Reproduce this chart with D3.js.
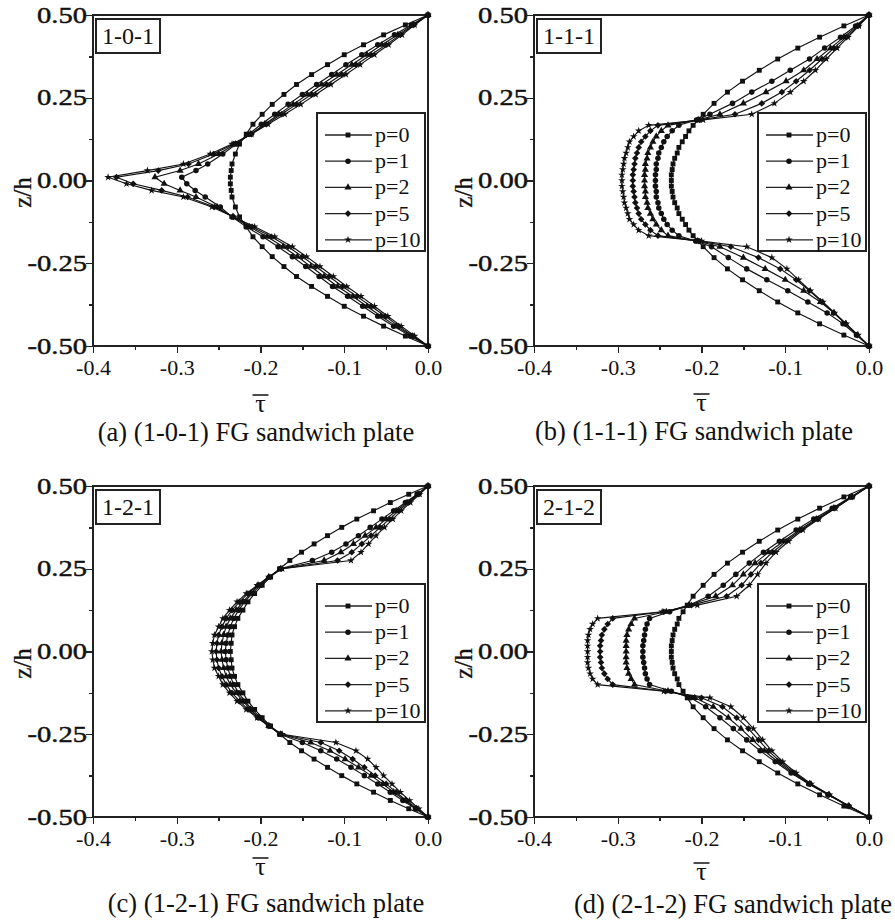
<!DOCTYPE html>
<meta charset="utf-8">
<style>

body {
  margin: 0;
  background: #fff;
}

svg {
  display: block;
  font-family: "Liberation Serif", "Times New Roman", serif;
}

svg text {
  font-family: "Liberation Serif", "Times New Roman", serif;
  fill: #111;
}

.axis path,
.axis line,
.frame,
.box {
  fill: none;
  stroke: #222;
  stroke-width: 1.3px;
  shape-rendering: crispEdges;
}

.curve {
  fill: none;
  stroke: #111;
  stroke-width: 1.15px;
}

.mark {
  fill: #111;
  stroke: none;
}

</style>
<body>
<svg width="895" height="924"></svg>

<script src="https://d3js.org/d3.v7.min.js"></script>
<script>

// ---- data (z/h against tau-bar) ----

var pLabels = ["p=0", "p=1", "p=2", "p=5", "p=10"];
var tags = ["1-0-1", "1-1-1", "1-2-1", "2-1-2"];
var captions = ["(a) (1-0-1) FG sandwich plate", "(b) (1-1-1) FG sandwich plate",
                "(c) (1-2-1) FG sandwich plate", "(d) (2-1-2) FG sandwich plate"];

var xTicks = [-0.4, -0.3, -0.2, -0.1, 0.0],
    xTickLabels = ["-0.4", "-0.3", "-0.2", "-0.1", "0.0"],
    xMinor = [-0.35, -0.25, -0.15, -0.05];
var yTicks = [0.5, 0.25, 0, -0.25, -0.5],
    yTickLabels = ["0.50", "0.25", "0.00", "-0.25", "-0.50"],
    yMinor = [0.375, 0.125, -0.125, -0.375];

// (a) 1-0-1
var zA = [0.5, 0.47, 0.44, 0.41, 0.38, 0.35, 0.32, 0.29, 0.26, 0.23, 0.2, 0.17, 0.14, 0.11, 0.08, 0.05, 0.03, 0.01,
          -0.01, -0.03, -0.05, -0.08, -0.11, -0.14, -0.17, -0.2, -0.23, -0.26, -0.29, -0.32, -0.35, -0.38, -0.41, -0.44, -0.47, -0.5];
var tauA0 = [0, -0.027, -0.053, -0.077, -0.100, -0.120, -0.139, -0.157, -0.172, -0.186, -0.198, -0.209, -0.217, -0.225, -0.230, -0.234, -0.235, -0.236,
             -0.236, -0.235, -0.234, -0.230, -0.225, -0.217, -0.209, -0.198, -0.186, -0.172, -0.157, -0.139, -0.120, -0.100, -0.077, -0.053, -0.027, 0];
var tauA1 = [0, -0.020, -0.040, -0.060, -0.079, -0.098, -0.115, -0.133, -0.150, -0.167, -0.183, -0.199, -0.214, -0.229, -0.245, -0.263, -0.277, -0.294,
             -0.288, -0.278, -0.266, -0.248, -0.234, -0.217, -0.197, -0.179, -0.162, -0.146, -0.130, -0.114, -0.096, -0.078, -0.060, -0.041, -0.021, 0];
var tauA2 = [0, -0.018, -0.036, -0.055, -0.073, -0.091, -0.109, -0.127, -0.144, -0.161, -0.178, -0.195, -0.212, -0.230, -0.250, -0.274, -0.296, -0.326,
             -0.315, -0.296, -0.277, -0.252, -0.233, -0.213, -0.192, -0.173, -0.156, -0.140, -0.124, -0.108, -0.090, -0.073, -0.056, -0.038, -0.019, 0];
var tauA5 = [0, -0.017, -0.033, -0.050, -0.068, -0.086, -0.103, -0.121, -0.139, -0.157, -0.175, -0.193, -0.211, -0.232, -0.256, -0.286, -0.322, -0.372,
             -0.352, -0.318, -0.287, -0.255, -0.232, -0.210, -0.187, -0.167, -0.150, -0.134, -0.118, -0.102, -0.085, -0.068, -0.051, -0.035, -0.018, 0];
var tauA10 = [0, -0.016, -0.031, -0.047, -0.064, -0.081, -0.098, -0.116, -0.134, -0.152, -0.171, -0.191, -0.211, -0.234, -0.260, -0.292, -0.335, -0.382,
              -0.360, -0.330, -0.292, -0.258, -0.232, -0.207, -0.183, -0.162, -0.145, -0.129, -0.113, -0.097, -0.080, -0.064, -0.048, -0.032, -0.016, 0];

// (b) 1-1-1
var zB = [0.5, 0.467, 0.433, 0.4, 0.367, 0.333, 0.3, 0.267, 0.233, 0.2, 0.183, 0.1667,
          0.15, 0.133, 0.117, 0.1, 0.083, 0.067, 0.05, 0.033, 0.017, 0, -0.017, -0.033, -0.05, -0.067, -0.083, -0.1, -0.117, -0.133, -0.15,
          -0.1667, -0.183, -0.2, -0.233, -0.267, -0.3, -0.333, -0.367, -0.4, -0.433, -0.467, -0.5];
var tauB0 = [0, -0.030, -0.059, -0.085, -0.109, -0.131, -0.151, -0.169, -0.185, -0.198, -0.204, -0.210,
             -0.215, -0.219, -0.223, -0.227, -0.229, -0.232, -0.234, -0.235, -0.236, -0.236, -0.236, -0.235, -0.234, -0.232, -0.229, -0.227, -0.223, -0.219, -0.215,
             -0.210, -0.204, -0.198, -0.185, -0.169, -0.151, -0.131, -0.109, -0.085, -0.059, -0.030, 0];
var tauB1 = [0, -0.016, -0.034, -0.053, -0.071, -0.094, -0.116, -0.140, -0.163, -0.190, -0.206, -0.227,
             -0.235, -0.241, -0.245, -0.248, -0.251, -0.252, -0.254, -0.254, -0.255, -0.255, -0.255, -0.254, -0.254, -0.252, -0.251, -0.248, -0.245, -0.241, -0.235,
             -0.227, -0.207, -0.188, -0.168, -0.146, -0.122, -0.097, -0.073, -0.050, -0.031, -0.015, 0];
var tauB2 = [0, -0.014, -0.030, -0.046, -0.062, -0.078, -0.099, -0.123, -0.150, -0.178, -0.204, -0.240,
             -0.248, -0.254, -0.258, -0.261, -0.264, -0.265, -0.267, -0.267, -0.268, -0.268, -0.268, -0.267, -0.267, -0.265, -0.264, -0.261, -0.258, -0.254, -0.248,
             -0.240, -0.205, -0.178, -0.150, -0.124, -0.100, -0.078, -0.058, -0.042, -0.028, -0.014, 0];
var tauB5 = [0, -0.013, -0.027, -0.042, -0.056, -0.071, -0.087, -0.104, -0.128, -0.160, -0.202, -0.252,
             -0.261, -0.267, -0.272, -0.275, -0.277, -0.279, -0.280, -0.281, -0.282, -0.282, -0.282, -0.281, -0.280, -0.279, -0.277, -0.275, -0.272, -0.267, -0.261,
             -0.252, -0.203, -0.165, -0.132, -0.106, -0.087, -0.071, -0.056, -0.042, -0.028, -0.014, 0];
var tauB10 = [0, -0.012, -0.025, -0.038, -0.051, -0.064, -0.078, -0.094, -0.113, -0.140, -0.198, -0.263,
              -0.275, -0.281, -0.286, -0.288, -0.290, -0.292, -0.293, -0.294, -0.295, -0.295, -0.295, -0.294, -0.293, -0.292, -0.290, -0.288, -0.286, -0.281, -0.275,
              -0.263, -0.200, -0.146, -0.116, -0.098, -0.084, -0.070, -0.055, -0.041, -0.027, -0.013, 0];

// (c) 1-2-1
var zC = [0.5, 0.475, 0.45, 0.425, 0.4, 0.375, 0.35, 0.325, 0.3, 0.275, 0.25,
          0.225, 0.2, 0.175, 0.15, 0.125, 0.1, 0.075, 0.05, 0.025, 0, -0.025, -0.05, -0.075, -0.1, -0.125, -0.15, -0.175, -0.2, -0.225,
          -0.25, -0.275, -0.3, -0.325, -0.35, -0.375, -0.4, -0.425, -0.45, -0.475, -0.5];
var tauC0 = [0, -0.023, -0.045, -0.065, -0.085, -0.103, -0.120, -0.136, -0.151, -0.165, -0.177,
             -0.188, -0.198, -0.207, -0.215, -0.221, -0.227, -0.231, -0.234, -0.235, -0.236, -0.235, -0.234, -0.231, -0.227, -0.221, -0.215, -0.207, -0.198, -0.188,
             -0.177, -0.165, -0.151, -0.136, -0.120, -0.103, -0.085, -0.065, -0.045, -0.023, 0];
var tauC1 = [0, -0.013, -0.027, -0.041, -0.055, -0.069, -0.083, -0.098, -0.115, -0.138, -0.177,
             -0.189, -0.200, -0.210, -0.219, -0.226, -0.232, -0.236, -0.239, -0.241, -0.242, -0.241, -0.239, -0.236, -0.232, -0.226, -0.219, -0.210, -0.200, -0.189,
             -0.177, -0.150, -0.128, -0.109, -0.092, -0.076, -0.060, -0.045, -0.030, -0.015, 0];
var tauC2 = [0, -0.012, -0.025, -0.038, -0.050, -0.062, -0.075, -0.089, -0.104, -0.124, -0.176,
             -0.190, -0.202, -0.212, -0.221, -0.229, -0.236, -0.241, -0.244, -0.246, -0.247, -0.246, -0.244, -0.241, -0.236, -0.229, -0.221, -0.212, -0.202, -0.190,
             -0.176, -0.140, -0.117, -0.099, -0.083, -0.068, -0.054, -0.041, -0.027, -0.014, 0];
var tauC5 = [0, -0.011, -0.023, -0.035, -0.046, -0.057, -0.068, -0.079, -0.091, -0.108, -0.175,
             -0.190, -0.203, -0.215, -0.225, -0.234, -0.241, -0.246, -0.250, -0.252, -0.253, -0.252, -0.250, -0.246, -0.241, -0.234, -0.225, -0.215, -0.203, -0.190,
             -0.175, -0.128, -0.106, -0.090, -0.076, -0.063, -0.050, -0.038, -0.026, -0.013, 0];
var tauC10 = [0, -0.010, -0.021, -0.032, -0.042, -0.052, -0.062, -0.071, -0.080, -0.092, -0.174,
              -0.190, -0.204, -0.217, -0.228, -0.237, -0.245, -0.250, -0.255, -0.257, -0.258, -0.257, -0.255, -0.250, -0.245, -0.237, -0.228, -0.217, -0.204, -0.190,
              -0.174, -0.110, -0.086, -0.072, -0.062, -0.053, -0.043, -0.033, -0.022, -0.011, 0];

// (d) 2-1-2
var zD = [0.5, 0.467, 0.433, 0.4, 0.367, 0.333, 0.3, 0.267, 0.233, 0.2, 0.167, 0.14, 0.12, 0.1,
          0.083, 0.067, 0.05, 0.033, 0.017, 0, -0.017, -0.033, -0.05, -0.067, -0.083,
          -0.1, -0.12, -0.14, -0.167, -0.2, -0.233, -0.267, -0.3, -0.333, -0.367, -0.4, -0.433, -0.467, -0.5];
var tauD0 = [0, -0.030, -0.059, -0.085, -0.109, -0.131, -0.151, -0.169, -0.185, -0.198, -0.210, -0.217, -0.222, -0.227,
             -0.229, -0.232, -0.234, -0.235, -0.236, -0.236, -0.236, -0.235, -0.234, -0.232, -0.229,
             -0.227, -0.222, -0.217, -0.210, -0.198, -0.185, -0.169, -0.151, -0.131, -0.109, -0.085, -0.059, -0.030, 0];
var tauD1 = [0, -0.022, -0.044, -0.066, -0.087, -0.107, -0.126, -0.143, -0.159, -0.174, -0.192, -0.215, -0.238, -0.262,
             -0.265, -0.267, -0.268, -0.269, -0.270, -0.270, -0.270, -0.269, -0.268, -0.267, -0.265,
             -0.262, -0.236, -0.213, -0.195, -0.178, -0.162, -0.146, -0.130, -0.112, -0.093, -0.072, -0.049, -0.025, 0];
var tauD2 = [0, -0.021, -0.042, -0.063, -0.083, -0.102, -0.120, -0.136, -0.150, -0.163, -0.183, -0.215, -0.242, -0.280,
             -0.284, -0.287, -0.289, -0.290, -0.290, -0.290, -0.290, -0.290, -0.289, -0.287, -0.284,
             -0.280, -0.240, -0.208, -0.186, -0.168, -0.153, -0.139, -0.125, -0.109, -0.091, -0.071, -0.048, -0.024, 0];
var tauD5 = [0, -0.020, -0.041, -0.061, -0.081, -0.099, -0.115, -0.129, -0.141, -0.152, -0.170, -0.212, -0.245, -0.306,
             -0.312, -0.316, -0.319, -0.320, -0.321, -0.321, -0.321, -0.320, -0.319, -0.316, -0.312,
             -0.306, -0.243, -0.200, -0.175, -0.158, -0.144, -0.132, -0.120, -0.106, -0.089, -0.070, -0.048, -0.024, 0];
var tauD10 = [0, -0.020, -0.040, -0.060, -0.079, -0.096, -0.111, -0.123, -0.133, -0.143, -0.158, -0.205, -0.247, -0.324,
              -0.330, -0.333, -0.335, -0.336, -0.336, -0.336, -0.336, -0.336, -0.335, -0.333, -0.330,
              -0.324, -0.245, -0.190, -0.165, -0.150, -0.138, -0.127, -0.116, -0.103, -0.087, -0.069, -0.047, -0.024, 0];

// ---- layout ----

var serif = "'Liberation Serif', 'Times New Roman', serif";

var svg = d3.select("svg"),
    width = 335,
    height = 331,
    yLabelStretch = 1.27;   // the y tick labels of the source are drawn wide

var panels = [
  {z: zA, tau: [tauA0, tauA1, tauA2, tauA5, tauA10], left: 93, top: 15, capX: 256, capY: 441, tauY: 66},
  {z: zB, tau: [tauB0, tauB1, tauB2, tauB5, tauB10], left: 534, top: 15, capX: 694, capY: 440, tauY: 65},
  {z: zC, tau: [tauC0, tauC1, tauC2, tauC5, tauC10], left: 93, top: 486, capX: 266, capY: 912, tauY: 58},
  {z: zD, tau: [tauD0, tauD1, tauD2, tauD5, tauD10], left: 534, top: 486, capX: 733, capY: 913, tauY: 63}
];

var x = d3.scaleLinear().domain([-0.4, 0]).range([0, width]);
var y = d3.scaleLinear().domain([-0.5, 0.5]).range([height, 0]);

// marker per series: square, circle, triangle, diamond, star
var symbols = [
  d3.symbol().type(d3.symbolSquare).size(24),
  d3.symbol().type(d3.symbolCircle).size(24),
  d3.symbol().type(d3.symbolTriangle).size(22),
  d3.symbol().type(d3.symbolSquare).size(22),
  d3.symbol().type(d3.symbolStar).size(18)
];
var rotations = [0, 0, 0, 45, 0];

var line = d3.line()
    .x(function(d) { return x(d.t); })
    .y(function(d) { return y(d.z); });

panels.forEach(function(pn, k) {
  var g = svg.append("g")
      .attr("transform", "translate(" + pn.left + "," + pn.top + ")");

  // axes
  var xAxis = g.append("g")
      .attr("class", "axis")
      .attr("transform", "translate(0," + height + ")")
      .call(d3.axisBottom(x).tickValues(xTicks)
        .tickFormat(function(d, i) { return xTickLabels[i]; })
        .tickSize(7).tickSizeOuter(0));
  xAxis.selectAll("text").attr("y", 29).attr("dy", null).style("font-size", "22px");

  g.append("g")
      .attr("class", "axis")
      .attr("transform", "translate(0," + height + ")")
      .call(d3.axisBottom(x).tickValues(xMinor).tickFormat("").tickSize(4).tickSizeOuter(0));

  var yAxis = g.append("g")
      .attr("class", "axis")
      .call(d3.axisLeft(y).tickValues(yTicks)
        .tickFormat(function(d, i) { return yTickLabels[i]; })
        .tickSize(7).tickSizeOuter(0));
  yAxis.selectAll("text")
      .attr("x", -6 / yLabelStretch)
      .attr("transform", "scale(" + yLabelStretch + ",1)")
      .style("font-size", "22.5px")
      .style("stroke", "#111")
      .style("stroke-width", "0.45px");

  g.append("g")
      .attr("class", "axis")
      .call(d3.axisLeft(y).tickValues(yMinor).tickFormat("").tickSize(4).tickSizeOuter(0));

  g.selectAll(".axis").attr("font-family", null).attr("font-size", null);

  g.append("rect")
      .attr("class", "frame")
      .attr("width", width)
      .attr("height", height);

  // curves
  var series = pn.tau.map(function(vals, s) {
    return vals.map(function(t, i) { return {t: t, z: pn.z[i]}; });
  });

  series.forEach(function(pts, s) {
    g.append("path")
        .attr("class", "curve")
        .attr("d", line(pts));
    g.selectAll(".m" + s)
      .data(pts)
      .enter().append("path")
        .attr("class", "mark m" + s)
        .attr("d", symbols[s])
        .attr("transform", function(d) {
          return "translate(" + x(d.t) + "," + y(d.z) + ") rotate(" + rotations[s] + ")";
        });
  });

  // layup tag
  g.append("rect")
      .attr("class", "box")
      .attr("x", 3).attr("y", 4)
      .attr("width", 64).attr("height", 34)
      .style("fill", "#fff");
  g.append("text")
      .attr("x", 35).attr("y", 29)
      .attr("text-anchor", "middle")
      .style("font-size", "24px")
      .text(tags[k]);

  // legend
  var lg = g.append("g").attr("transform", "translate(224,98)");
  lg.append("rect")
      .attr("class", "box")
      .attr("width", 108).attr("height", 138)
      .style("fill", "#fff");
  pLabels.forEach(function(lab, s) {
    var ly = 22 + s * 26.2;
    lg.append("line")
        .attr("x1", 8).attr("x2", 55)
        .attr("y1", ly).attr("y2", ly)
        .style("stroke", "#222").style("stroke-width", "1.3px");
    lg.append("path")
        .attr("class", "mark")
        .attr("d", symbols[s])
        .attr("transform", "translate(31," + ly + ") rotate(" + rotations[s] + ")");
    lg.append("text")
        .attr("x", 58).attr("y", ly)
        .attr("dy", "0.32em")
        .style("font-size", "22px")
        .text(lab);
  });

  // axis titles
  g.append("text")
      .attr("transform", "translate(-62," + (height / 2 + 12) + ") rotate(-90)")
      .attr("text-anchor", "middle")
      .style("font-size", "25px")
      .style("stroke", "#111")
      .style("stroke-width", "0.3px")
      .text("z/h");

  g.append("text")
      .attr("x", width / 2).attr("y", height + pn.tauY)
      .attr("text-anchor", "middle")
      .style("font-size", "26px")
      .text("\u03c4");
  g.append("line")
      .attr("x1", width / 2 - 8).attr("x2", width / 2 + 8)
      .attr("y1", height + pn.tauY - 17).attr("y2", height + pn.tauY - 17)
      .style("stroke", "#111").style("stroke-width", "1.5px");

  // caption
  svg.append("text")
      .attr("x", pn.capX).attr("y", pn.capY)
      .attr("text-anchor", "middle")
      .style("font-size", "26.5px")
      .text(captions[k]);
});

// every text in the same serif face, set inline so nothing overrides it
svg.selectAll("text").style("font-family", serif);

</script>
</body>
